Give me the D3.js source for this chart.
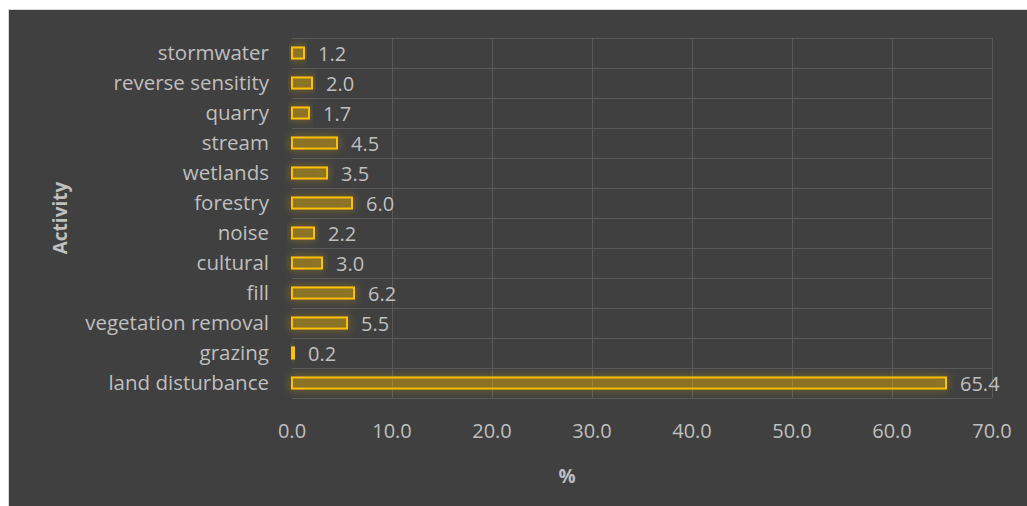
<!DOCTYPE html>
<html>
<head>
<meta charset="utf-8">
<script src="https://cdn.jsdelivr.net/npm/d3@7"></script>
<style>
  html, body { margin: 0; padding: 0; background: #ffffff; }
  svg { display: block; }
  text { font-family: "Open Sans", "Noto Sans", sans-serif; }
</style>
</head>
<body>
<svg id="chart" width="1027" height="506"></svg>
<script>
// Share of consents by activity (%)
const activities = [
  "stormwater", "reverse sensitity", "quarry", "stream", "wetlands", "forestry",
  "noise", "cultural", "fill", "vegetation removal", "grazing", "land disturbance"
];
const percentages = [1.2, 2.0, 1.7, 4.5, 3.5, 6.0, 2.2, 3.0, 6.2, 5.5, 0.2, 65.4];
const xTicks = [0, 10, 20, 30, 40, 50, 60, 70];

const W = 1027, H = 506;
const svg = d3.select("#chart");

// panel background with thin frame
svg.append("rect").attr("x", 8.5).attr("y", 9.5).attr("width", W - 8).attr("height", H - 9)
  .attr("fill", "#404040").attr("stroke", "#d9d9d9").attr("stroke-width", 1);

const plot = { left: 292, right: 992, top: 38, bottom: 398 };

const x = d3.scaleLinear().domain([0, 70]).range([plot.left, plot.right]);
const y = d3.scaleBand().domain(activities).range([plot.top, plot.bottom]).paddingInner(0.63).paddingOuter(0.315);
const band = d3.scaleBand().domain(activities).range([plot.top, plot.bottom]);

// glow filter
const defs = svg.append("defs");
const glow = defs.append("filter").attr("id", "glow")
  .attr("x", "-20%").attr("y", "-150%").attr("width", "140%").attr("height", "400%");
glow.append("feGaussianBlur").attr("in", "SourceAlpha").attr("stdDeviation", 4.5).attr("result", "blur");
glow.append("feFlood").attr("flood-color", "#ffc000").attr("flood-opacity", 0.55);
glow.append("feComposite").attr("in2", "blur").attr("operator", "in").attr("result", "glowc");
const merge = glow.append("feMerge");
merge.append("feMergeNode").attr("in", "glowc");
merge.append("feMergeNode").attr("in", "SourceGraphic");

// gridlines
const grid = svg.append("g").attr("stroke", "#595959").attr("stroke-width", 1);
grid.selectAll("line.v").data(xTicks.slice(1)).join("line")
  .attr("x1", d => Math.round(x(d)) + 0.5).attr("x2", d => Math.round(x(d)) + 0.5)
  .attr("y1", plot.top).attr("y2", plot.bottom);
const hLines = activities.map(a => band(a)).concat([plot.bottom]);
grid.selectAll("line.h").data(hLines).join("line")
  .attr("x1", plot.left).attr("x2", plot.right)
  .attr("y1", d => Math.round(d) + 0.5).attr("y2", d => Math.round(d) + 0.5);

// bars
svg.append("g").selectAll("rect").data(activities).join("rect")
  .attr("x", x(0))
  .attr("y", d => y(d))
  .attr("width", (d, i) => x(percentages[i]) - x(0))
  .attr("height", y.bandwidth())
  .attr("fill", "rgba(255,192,0,0.25)")
  .attr("stroke", "#ffc000").attr("stroke-width", 2)
  .attr("filter", "url(#glow)");

// value labels
svg.append("g").selectAll("text").data(activities).join("text")
  .attr("x", (d, i) => x(percentages[i]) + 14)
  .attr("y", d => band(d) + band.bandwidth() / 2 + 1)
  .attr("dy", "0.35em")
  .attr("fill", "#bfbfbf").attr("font-size", 20)
  .text((d, i) => percentages[i].toFixed(1));

// category labels
svg.append("g").selectAll("text").data(activities).join("text")
  .attr("x", 269)
  .attr("y", d => band(d) + band.bandwidth() / 2)
  .attr("dy", "0.35em")
  .attr("text-anchor", "end")
  .attr("fill", "#bfbfbf").attr("font-size", 20.5)
  .text(d => d);

// x tick labels
svg.append("g").selectAll("text").data(xTicks).join("text")
  .attr("x", d => x(d))
  .attr("y", 431).attr("dy", "0.35em")
  .attr("text-anchor", "middle")
  .attr("fill", "#bfbfbf").attr("font-size", 20)
  .text(d => d.toFixed(1));

// axis titles
svg.append("text").attr("x", 567).attr("y", 476).attr("dy", "0.35em")
  .attr("text-anchor", "middle").attr("fill", "#bfbfbf").attr("font-size", 19).attr("font-weight", "bold")
  .text("%");
svg.append("text").attr("transform", "translate(60,218) rotate(-90)").attr("dy", "0.35em")
  .attr("text-anchor", "middle").attr("fill", "#bfbfbf").attr("font-size", 19).attr("font-weight", "bold")
  .text("Activity");
</script>
</body>
</html>
